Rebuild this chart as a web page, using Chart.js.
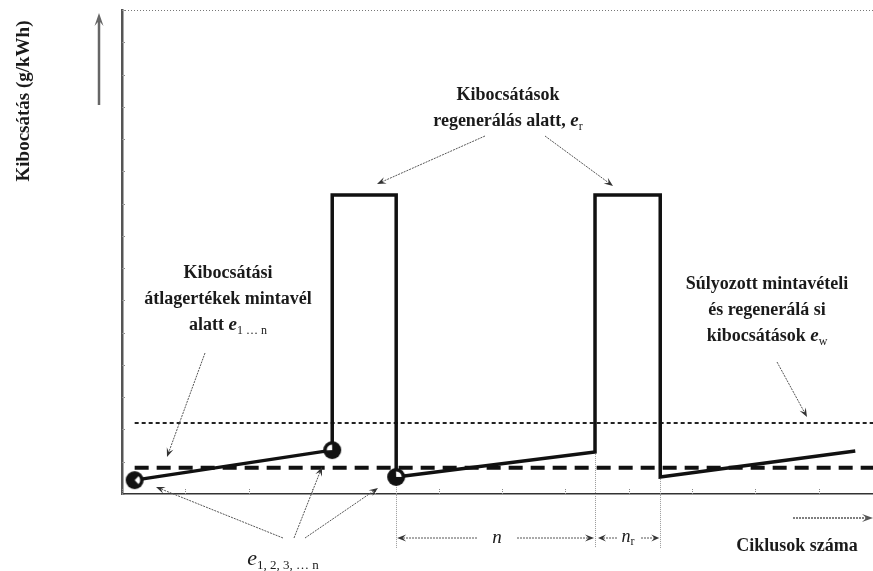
<!DOCTYPE html>
<html>
<head>
<meta charset="utf-8">
<script src="https://cdn.jsdelivr.net/npm/chart.js@4.4.0/dist/chart.umd.min.js"></script>
<style>
  html, body { margin: 0; padding: 0; background: #fff; }
</style>
</head>
<body>
<canvas id="stage" width="873" height="571"></canvas>
<script>
// emission trace over the test cycles (x = cycle number, y = g/kWh)
const cycleX   = [0.2, 3.32, 3.32, 4.33, 4.33, 7.47, 7.47, 8.5, 8.5, 11.58];
const emission = [0.43, 1.36, 9.27, 9.27, 0.53, 1.30, 9.27, 9.27, 0.53, 1.33];

// sampled mean values e1..n (the round markers)
const sampleX = [0.2, 3.32, 4.33];
const sampleY = [0.43, 1.36, 0.53];

// horizontal levels
const levelX    = [0.2, 11.86];
const meanLevel = [0.81, 0.81];  // thick dashed line
const ewLevel   = [2.2, 2.2];    // weighted e_w

const xMax = 11.86;
const yMax = 15;

const pts = (xs, ys) => xs.map((v, i) => ({x: v, y: ys[i]}));

const SERIF = '"Liberation Serif", "DejaVu Serif", serif';

// black disc with a white notch, like the hand drawn markers
function disc(angle) {
  const c = document.createElement('canvas');
  c.width = 20; c.height = 20;
  const g = c.getContext('2d');
  g.fillStyle = '#111';
  g.beginPath(); g.arc(10, 10, 9, 0, Math.PI * 2); g.fill();
  g.fillStyle = '#fff';
  g.beginPath();
  g.moveTo(10, 10);
  g.arc(10, 10, 5.5, angle - 0.8, angle + 0.8);
  g.closePath();
  g.fill();
  return c;
}
const discStyles = [disc(0), disc(-2.4), disc(-0.8)];

function runs(ctx, parts, cx, y) {
  let w = 0;
  parts.forEach(p => { ctx.font = p.f; w += ctx.measureText(p.t).width; });
  let x = cx - w / 2;
  parts.forEach(p => {
    ctx.font = p.f;
    ctx.fillText(p.t, x, y + (p.dy || 0));
    x += ctx.measureText(p.t).width;
  });
}

function arrow(ctx, x1, y1, x2, y2, opts = {}) {
  const w = opts.width || 1;
  ctx.save();
  ctx.strokeStyle = opts.color || '#555';
  ctx.fillStyle = opts.color || '#333';
  ctx.lineWidth = w;
  ctx.setLineDash(opts.dash || [2, 1]);
  const ang = Math.atan2(y2 - y1, x2 - x1);
  const hl = opts.head || 9;
  const hw = opts.hw || 3.5;
  ctx.beginPath();
  ctx.moveTo(x1, y1);
  ctx.lineTo(x2 - Math.cos(ang) * hl * 0.6, y2 - Math.sin(ang) * hl * 0.6);
  ctx.stroke();
  ctx.setLineDash([]);
  ctx.beginPath();
  ctx.moveTo(x2, y2);
  ctx.lineTo(x2 - hl * Math.cos(ang) + hw * Math.sin(ang), y2 - hl * Math.sin(ang) - hw * Math.cos(ang));
  ctx.lineTo(x2 - hl * 0.6 * Math.cos(ang), y2 - hl * 0.6 * Math.sin(ang));
  ctx.lineTo(x2 - hl * Math.cos(ang) - hw * Math.sin(ang), y2 - hl * Math.sin(ang) + hw * Math.cos(ang));
  ctx.closePath();
  ctx.fill();
  ctx.restore();
}

const notes = {
  id: 'notes',
  beforeDatasetsDraw(chart) {
    const {ctx, chartArea: a, scales: {x, y}} = chart;
    ctx.save();
    // top dotted frame line
    ctx.strokeStyle = '#777';
    ctx.lineWidth = 1;
    ctx.setLineDash([1, 2]);
    ctx.beginPath();
    ctx.moveTo(a.left, a.top + 0.5);
    ctx.lineTo(a.right, a.top + 0.5);
    ctx.stroke();
    // inner tick marks
    ctx.setLineDash([1, 1]);
    ctx.strokeStyle = '#888';
    y.ticks.forEach(t => {
      const py = Math.round(y.getPixelForValue(t.value)) + 0.5;
      ctx.beginPath(); ctx.moveTo(a.left, py); ctx.lineTo(a.left + 4, py); ctx.stroke();
    });
    x.ticks.forEach(t => {
      const px = Math.round(x.getPixelForValue(t.value)) + 0.5;
      ctx.beginPath(); ctx.moveTo(px, a.bottom); ctx.lineTo(px, a.bottom - 6); ctx.stroke();
    });
    // vertical guide lines below regeneration edges
    ctx.strokeStyle = '#999';
    ctx.setLineDash([1, 1]);
    [[4.33, 0.53], [7.47, 1.30], [8.5, 0.53]].forEach(([vx, vy]) => {
      const px = Math.round(x.getPixelForValue(vx)) + 0.5;
      ctx.beginPath();
      ctx.moveTo(px, y.getPixelForValue(vy));
      ctx.lineTo(px, 548);
      ctx.stroke();
    });
    ctx.restore();
  },
  afterDraw(chart) {
    const {ctx, scales: {x, y}} = chart;
    ctx.save();
    ctx.fillStyle = '#1a1a1a';
    ctx.textBaseline = 'alphabetic';
    const B = 'bold 18px ' + SERIF;
    const BI = 'italic bold 19px ' + SERIF;
    const SUB = '12px ' + SERIF;

    // y axis title
    ctx.save();
    ctx.translate(29, 101);
    ctx.rotate(-Math.PI / 2);
    runs(ctx, [{t: 'Kibocsátás (g/kWh)', f: 'bold 19px ' + SERIF}], 0, 0);
    ctx.restore();

    // axis direction arrows
    arrow(ctx, 99, 105, 99, 13, {width: 2.5, color: '#666', dash: [], head: 13, hw: 4.5});
    arrow(ctx, 793, 518, 873, 518, {width: 1.5, color: '#555', dash: [2, 1], head: 11, hw: 4});

    // x axis title
    runs(ctx, [{t: 'Ciklusok száma', f: B}], 797, 551);

    // regeneration label
    runs(ctx, [{t: 'Kibocsátások', f: B}], 508, 100);
    runs(ctx, [{t: 'regenerálás alatt, ', f: B}, {t: 'e', f: BI}, {t: 'r', f: SUB, dy: 4}], 508, 126);
    arrow(ctx, 485, 136, 377, 184);
    arrow(ctx, 545, 136, 613, 186);

    // mean value label
    runs(ctx, [{t: 'Kibocsátási', f: B}], 228, 278);
    runs(ctx, [{t: 'átlagertékek mintavél', f: B}], 228, 304);
    runs(ctx, [{t: 'alatt ', f: B}, {t: 'e', f: BI}, {t: '1 … n', f: SUB, dy: 4}], 228, 330);
    arrow(ctx, 205, 353, 167, 457);

    // weighted label
    runs(ctx, [{t: 'Súlyozott mintavételi', f: B}], 767, 289);
    runs(ctx, [{t: 'és regenerálá si', f: B}], 767, 315);
    runs(ctx, [{t: 'kibocsátások ', f: B}, {t: 'e', f: BI}, {t: 'w', f: SUB, dy: 4}], 767, 341);
    arrow(ctx, 777, 362, 807, 417);

    // e1,2,3..n label and arrows to the markers
    runs(ctx, [{t: 'e', f: 'italic 22px ' + SERIF}, {t: '1, 2, 3, … n', f: '13px ' + SERIF, dy: 4}], 283, 565);
    arrow(ctx, 283, 538, 156, 487);
    arrow(ctx, 294, 538, 322, 467);
    arrow(ctx, 305, 538, 378, 488);

    // n and n_r dimension arrows
    const xa = x.getPixelForValue(4.33), xb = x.getPixelForValue(7.47), xc = x.getPixelForValue(8.5);
    arrow(ctx, 477, 538, xa + 1, 538);
    arrow(ctx, 517, 538, xb - 1, 538);
    runs(ctx, [{t: 'n', f: 'italic 19px ' + SERIF}], 497, 543);
    arrow(ctx, 617, 538, xb + 3, 538, {head: 8});
    arrow(ctx, 641, 538, xc - 1, 538, {head: 8});
    runs(ctx, [{t: 'n', f: 'italic 18px ' + SERIF}, {t: 'r', f: SUB, dy: 3}], 628, 542);
    ctx.restore();
  }
};

new Chart(document.getElementById('stage'), {
  type: 'scatter',
  data: {
    datasets: [{
      label: 'emission',
      data: pts(cycleX, emission),
      showLine: true,
      borderColor: '#111',
      borderWidth: 3.5,
      pointRadius: 0,
      borderJoinStyle: 'miter',
      order: 1
    }, {
      label: 'samples',
      data: pts(sampleX, sampleY),
      showLine: false,
      pointStyle: discStyles,
      pointRadius: 9,
      order: 0
    }, {
      label: 'mean',
      data: pts(levelX, meanLevel),
      showLine: true,
      borderColor: '#111',
      borderWidth: 4,
      borderDash: [14, 8],
      pointRadius: 0,
      order: 3
    }, {
      label: 'ew',
      data: pts(levelX, ewLevel),
      showLine: true,
      borderColor: '#222',
      borderWidth: 2,
      borderDash: [4, 3],
      pointRadius: 0,
      order: 4
    }]
  },
  options: {
    responsive: false,
    animation: false,
    devicePixelRatio: 1,
    layout: {autoPadding: false, padding: {left: 122, top: 10, right: 0, bottom: 77}},
    plugins: {legend: {display: false}, tooltip: {enabled: false}},
    scales: {
      x: {
        type: 'linear', min: 0, max: xMax,
        ticks: {display: false, stepSize: 1},
        grid: {display: false, drawTicks: false},
        border: {display: true, color: '#333', width: 1.5},
        afterFit: s => { s.height = 0; s.paddingLeft = 0; s.paddingRight = 0; }
      },
      y: {
        type: 'linear', min: 0, max: yMax,
        ticks: {display: false, stepSize: 1},
        grid: {display: false, drawTicks: false},
        border: {display: true, color: '#555', width: 2.5},
        afterFit: s => { s.width = 0; s.paddingTop = 0; s.paddingBottom = 0; }
      }
    }
  },
  plugins: [notes]
});
</script>
</body>
</html>
